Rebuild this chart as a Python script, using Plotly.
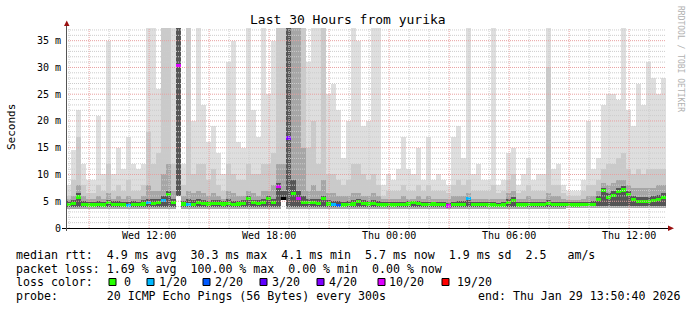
import plotly.graph_objects as go
import pandas as pd

# ---------------- data (15-minute bins, 120 bins = 30 hours) ----------------
START = "2026-01-28 07:50:40"
END = "2026-01-29 13:50:40"
BIN_MINUTES = 15

# top of lightest smoke (max ping), ms
smoke_hi = [
    8, 14.5, 22, 12, 9, 9, 21, 10, 35, 10,
    15, 11, 17, 12, 11, 12, 37.7, 37.7, 26, 37.7,
    37.7, 37.7, 37.7, 12, 37.7, 20, 37.7, 23, 16, 19,
    14, 10, 31, 35, 16, 15, 37.7, 22, 17, 37.7,
    25, 35, 37.7, 37.7, 37.7, 37.7, 37.7, 37.7, 31, 37.7,
    37.7, 37.7, 25, 27, 22, 13, 20, 37.7, 35, 19,
    20, 37.7, 37.7, 8, 10, 9, 11, 17, 11, 10,
    15, 9, 17, 9, 10, 9, 8, 17, 19, 13,
    37.7, 10, 12, 9, 9, 37.7, 8, 9, 14, 15,
    8, 10, 13, 9, 10, 10, 37.7, 11, 12, 8,
    7, 7, 7, 9, 20, 11, 13, 23, 25, 25,
    24, 37.7, 22, 19, 27, 23, 31, 28, 25, 28,
]
# top of mid-gray smoke
smoke_mid = [
    6, 9, 17, 8, 6.5, 6.5, 8, 7, 12, 7,
    8, 7, 9, 7, 7, 8, 18, 12, 14, 37.7,
    37.7, 12, 37.7, 8, 37.7, 10, 12, 12, 9, 11,
    8, 7, 12, 10, 9, 9, 12, 10, 10, 12,
    12, 14, 37.7, 37.7, 37.7, 37.7, 37.7, 37.7, 15, 20,
    12, 37.7, 10, 10, 9, 8, 9, 12, 12, 10,
    9, 10, 8, 6, 7, 7, 7, 8, 7, 7,
    8, 7, 8, 7, 7, 7, 6.5, 8, 9, 8,
    9, 7, 7, 7, 7, 8, 6.5, 7, 9, 10,
    6.5, 7, 8, 7, 7, 7, 30, 8, 8, 6.5,
    6, 6, 6, 7, 8, 8, 9, 11, 12, 12,
    13, 14, 11, 10, 11, 10, 11, 11, 11, 11,
]
# top of dark-gray smoke
smoke_dark = [
    5.5, 6, 8, 6, 5.5, 5.5, 6, 5.5, 6.5, 5.5,
    6, 5.5, 6, 5.5, 5.5, 6, 8, 7, 7, 10,
    12, 7, 37.7, 6, 7, 6.5, 7, 6.5, 6, 6.5,
    6, 5.5, 7, 6.5, 6, 6, 7, 6.5, 6, 7,
    7, 8, 12, 12, 37.7, 37.7, 37.7, 15, 7, 8,
    7, 9, 6.5, 6.5, 6, 6, 6, 6.5, 6.5, 6,
    6, 6.5, 6, 5.5, 5.5, 5.5, 5.5, 6, 5.5, 5.5,
    6, 5.5, 6, 5.5, 5.5, 5.5, 5.5, 6, 6, 6,
    6.5, 5.5, 5.5, 5.5, 5.5, 5.5, 5.5, 5.5, 6.5, 7,
    5.5, 5.5, 6, 5.5, 5.5, 5.5, 6.5, 6, 6, 5.5,
    5.3, 5.3, 5.3, 5.5, 6, 6, 7, 8.5, 8, 8.5,
    9, 9, 8, 7.5, 7.5, 7.5, 7.5, 7.5, 8, 8,
]
# top of darkest smoke core
smoke_core = [
    5, 5.2, 6.5, 5, 4.9, 4.9, 5, 4.9, 5.3, 5,
    5, 4.9, 4.9, 5, 4.9, 5.2, 5.5, 5.5, 5.5, 6,
    7, 5.5, 37.7, 5, 5.5, 5.2, 5.5, 5.2, 5, 5.2,
    5.2, 5, 5.5, 5, 5, 5.2, 6, 5.3, 5.2, 5.4,
    6, 5.5, 8.5, 7, 37.7, 9, 7, 6, 5.5, 5.5,
    5.5, 6, 5.2, 5, 5, 4.9, 5, 5.2, 5.5, 5.2,
    5, 5.2, 5, 4.8, 4.9, 4.8, 4.9, 4.9, 5, 5.1,
    5, 4.8, 4.9, 4.9, 4.8, 4.8, 4.6, 4.9, 5, 5,
    5.8, 4.9, 4.9, 4.9, 4.8, 4.8, 4.7, 4.8, 5.4, 5.8,
    4.8, 4.8, 4.9, 4.9, 4.9, 4.9, 5.2, 4.9, 4.9, 4.8,
    4.8, 4.8, 4.8, 4.9, 4.9, 5, 6, 7.5, 6.5, 7,
    7.5, 7.8, 7, 6, 5.8, 5.8, 5.8, 6, 6.2, 6.5,
]
# bottom of smoke (min ping)
smoke_lo = (
    [3.6] * 22 + [6.0] + [3.6] * 20 + [5.8] + [3.6] * 56 + [3.8] * 20
)
# bottom of darkest core
core_lo = (
    [4.0] * 22 + [6.0] + [4.0] * 20 + [5.8] + [4.0] * 56 + [4.2] * 20
)
# median rtt, ms
median_rtt = [
    4.4, 4.6, 5.8, 4.4, 4.3, 4.3, 4.4, 4.3, 4.8, 4.4,
    4.4, 4.3, 4.2, 4.4, 4.4, 4.5, 4.7, 4.6, 4.8, 5.2,
    6.2, 4.8, 30.3, 4.5, 4.4, 4.4, 4.8, 4.6, 4.5, 4.6,
    4.6, 4.5, 4.6, 4.4, 4.5, 4.6, 5.5, 4.7, 4.6, 4.7,
    5.5, 4.8, 7.8, 5.5, 16.8, 6.5, 5.5, 4.8, 4.7, 4.8,
    4.6, 5.5, 4.5, 4.4, 4.2, 4.3, 4.4, 4.5, 4.9, 4.6,
    4.5, 4.6, 4.4, 4.3, 4.4, 4.3, 4.4, 4.4, 4.5, 4.7,
    4.6, 4.4, 4.4, 4.5, 4.4, 4.4, 4.1, 4.4, 4.4, 4.4,
    5.5, 4.4, 4.4, 4.4, 4.3, 4.3, 4.2, 4.3, 4.8, 5.2,
    4.3, 4.3, 4.4, 4.4, 4.4, 4.4, 4.6, 4.4, 4.4, 4.4,
    4.4, 4.3, 4.3, 4.4, 4.4, 4.4, 5.3, 7.0, 5.7, 6.0,
    6.8, 7.1, 6.2, 5.3, 5.0, 5.0, 5.0, 5.2, 5.3, 5.7,
]
# lost pings out of 20 per bin (-1 = unknown)
loss_count = [0] * 120
for i, v in {12: 1, 16: 1, 19: 1, 22: 10, 24: 1, 42: 10, 43: -1, 44: 4,
             46: 10, 53: 1, 54: 2, 76: 10, 80: 1}.items():
    loss_count[i] = v

loss_levels = ["0", "1/20", "2/20", "3/20", "4/20", "10/20", "19/20"]
loss_colors = ["#26ff00", "#00b8ff", "#0059ff", "#5e00ff", "#7e00ff", "#dd00ff", "#ff0000"]
loss_keys = [0, 1, 2, 3, 4, 10, 19]

y_tick_vals = [0, 5, 10, 15, 20, 25, 30, 35]
y_tick_text = ["0", "5 m", "10 m", "15 m", "20 m", "25 m", "30 m", "35 m"]
x_tick_vals = ["2026-01-28 12:00", "2026-01-28 18:00", "2026-01-29 00:00",
               "2026-01-29 06:00", "2026-01-29 12:00"]
x_tick_text = ["Wed 12:00", "Wed 18:00", "Thu 00:00", "Thu 06:00", "Thu 12:00"]

stats_line1 = "median rtt:  4.9 ms avg  30.3 ms max  4.1 ms min  5.7 ms now  1.9 ms sd  2.5   am/s"
stats_line2 = "packet loss: 1.69 % avg  100.00 % max  0.00 % min  0.00 % now"
probe_line = "probe:       20 ICMP Echo Pings (56 Bytes) every 300s"
end_line = "end: Thu Jan 29 13:50:40 2026"

# ---------------- figure ----------------
FONT = "DejaVu Sans Mono"
start = pd.Timestamp(START)
end = pd.Timestamp(END)
n = len(median_rtt)
times = [start + pd.Timedelta(minutes=BIN_MINUTES * i + BIN_MINUTES / 2) for i in range(n)]

fig = go.Figure()
for top, bottom, color in [(smoke_hi, smoke_lo, "#dedede"), (smoke_mid, smoke_lo, "#cacaca"),
                           (smoke_dark, smoke_lo, "#a6a6a6"), (smoke_core, core_lo, "#555555")]:
    fig.add_trace(go.Bar(
        x=times, y=[t - b for t, b in zip(top, bottom)], base=bottom,
        marker=dict(color=color, line=dict(width=0)), hoverinfo="skip",
        showlegend=False))

cmap = dict(zip(loss_keys, loss_colors))
cmap[-1] = "#000000"
MED_H = 0.6
fig.add_trace(go.Bar(
    x=times, y=[MED_H] * n, base=[m - MED_H / 2 for m in median_rtt],
    marker=dict(color=[cmap[l] for l in loss_count], line=dict(width=0)),
    hoverinfo="skip", showlegend=False))

# pixel helpers (plot area is x 66..666, y 28..228)
def px(xp):
    return (xp - 66) / 600.0


def py(yp):
    return (228 - yp) / 200.0


shapes = []
# grid (drawn above the smoke, like rrdtool)
h = start.ceil("h")
while h < end:
    major = h.hour % 3 == 0
    shapes.append(dict(type="line", xref="x", yref="paper", x0=h, x1=h, y0=0, y1=1,
                       layer="above",
                       line=dict(color="#e8a0a0" if major else "#cccccc", width=1,
                                 dash="1px,1px")))
    h += pd.Timedelta(hours=1)
for v in range(1, 38):
    major = v % 5 == 0
    shapes.append(dict(type="line", xref="paper", yref="y", x0=0, x1=1, y0=v, y1=v,
                       layer="above",
                       line=dict(color="#e8a0a0" if major else "#cccccc", width=1,
                                 dash="1px,1px")))
# axes with arrows
shapes.append(dict(type="line", xref="paper", yref="paper", x0=px(62), x1=px(670),
                   y0=py(228.5), y1=py(228.5), layer="above", line=dict(color="#000", width=1)))
shapes.append(dict(type="line", xref="paper", yref="paper", x0=px(66.5), x1=px(66.5),
                   y0=py(231), y1=py(24), layer="above", line=dict(color="#555", width=1)))
shapes.append(dict(type="path", xref="paper", yref="paper", layer="above",
                   path=f"M {px(64)} {py(26)} L {px(69.5)} {py(26)} L {px(66.75)} {py(20.5)} Z",
                   fillcolor="#9a1010", line=dict(width=0)))
shapes.append(dict(type="path", xref="paper", yref="paper", layer="above",
                   path=f"M {px(668)} {py(225.5)} L {px(668)} {py(231)} L {px(674)} {py(228.25)} Z",
                   fillcolor="#9a1010", line=dict(width=0)))

annotations = []


def text(xp, yp, s, size=11.6, color="#000", anchor="left", **kw):
    annotations.append(dict(xref="paper", yref="paper", x=px(xp), y=py(yp),
                            text=s.replace(" ", "\u00a0"), showarrow=False,
                            xanchor=anchor, yanchor="middle",
                            font=dict(family=FONT, size=size, color=color), **kw))


text(348, 19.5, "Last 30 Hours from yurika", size=13, anchor="center")
text(11, 127, "Seconds", size=11, anchor="center", textangle=-90)
text(681, 59, "RRDTOOL / TOBI OETIKER", size=8, color="#b0b0b0", anchor="center",
     textangle=90)
text(14, 255, stats_line1)
text(14, 268.5, stats_line2)
text(14, 282, "loss color:")
box_x = [109, 147, 203, 260, 317, 378, 442]
lab_x = [122, 157, 213, 270, 327, 387, 455]
for bx, lx, lab, col in zip(box_x, lab_x, loss_levels, loss_colors):
    shapes.append(dict(type="rect", xref="paper", yref="paper",
                       x0=px(bx), x1=px(bx + 7), y0=py(285.5), y1=py(278.5),
                       fillcolor=col, line=dict(color="#000", width=1)))
    text(lx, 282, lab)
text(14, 296, probe_line)
text(476, 296, end_line)

fig.update_layout(
    width=697, height=310,
    margin=dict(l=66, r=31, t=28, b=82),
    paper_bgcolor="#ffffff", plot_bgcolor="#ffffff",
    barmode="overlay", bargap=0,
    shapes=shapes, annotations=annotations,
    font=dict(family=FONT, color="#000"),
    xaxis=dict(range=[start, end], type="date", showgrid=False, zeroline=False,
               showline=False, tickmode="array", tickvals=x_tick_vals,
               ticktext=x_tick_text, tickfont=dict(family=FONT, size=10),
               ticks="", ticklen=0),
    yaxis=dict(range=[0, 37.37], showgrid=False, zeroline=False, showline=False,
               tickmode="array", tickvals=y_tick_vals, ticktext=y_tick_text,
               tickfont=dict(family=FONT, size=10), ticks="outside", ticklen=2,
               tickcolor="rgba(0,0,0,0)"),
)

fig.write_html("out.html", config={"displayModeBar": False})
